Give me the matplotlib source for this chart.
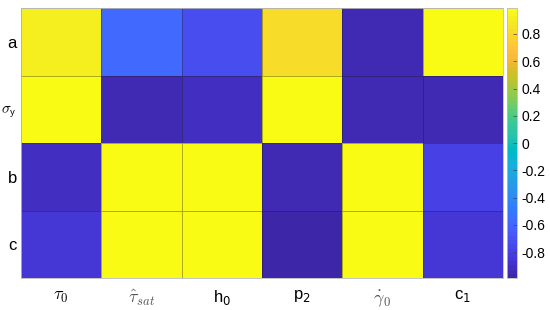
import numpy as np
import matplotlib
matplotlib.use('Agg')
import matplotlib.pyplot as plt
from matplotlib.colors import ListedColormap

# parula (MATLAB) colour table, 64 entries
parula_data = [
    [0.2422, 0.1504, 0.6603], [0.2504, 0.1650, 0.7076], [0.2578, 0.1818, 0.7511], [0.2647, 0.1978, 0.7952],
    [0.2706, 0.2147, 0.8364], [0.2751, 0.2342, 0.8710], [0.2783, 0.2559, 0.8991], [0.2803, 0.2782, 0.9221],
    [0.2813, 0.3006, 0.9414], [0.2810, 0.3228, 0.9579], [0.2795, 0.3447, 0.9717], [0.2760, 0.3667, 0.9829],
    [0.2699, 0.3892, 0.9906], [0.2602, 0.4123, 0.9952], [0.2440, 0.4358, 0.9988], [0.2206, 0.4603, 0.9973],
    [0.1963, 0.4847, 0.9892], [0.1834, 0.5074, 0.9798], [0.1786, 0.5289, 0.9682], [0.1764, 0.5499, 0.9520],
    [0.1687, 0.5703, 0.9359], [0.1540, 0.5902, 0.9218], [0.1460, 0.6091, 0.9079], [0.1380, 0.6276, 0.8973],
    [0.1248, 0.6459, 0.8883], [0.1113, 0.6635, 0.8763], [0.0952, 0.6798, 0.8598], [0.0689, 0.6948, 0.8394],
    [0.0297, 0.7082, 0.8163], [0.0036, 0.7203, 0.7917], [0.0067, 0.7312, 0.7660], [0.0433, 0.7411, 0.7394],
    [0.0964, 0.7500, 0.7120], [0.1408, 0.7584, 0.6842], [0.1717, 0.7670, 0.6554], [0.1938, 0.7758, 0.6251],
    [0.2161, 0.7843, 0.5923], [0.2470, 0.7918, 0.5567], [0.2906, 0.7973, 0.5188], [0.3406, 0.8008, 0.4789],
    [0.3909, 0.8029, 0.4354], [0.4456, 0.8024, 0.3909], [0.5044, 0.7993, 0.3480], [0.5616, 0.7942, 0.3045],
    [0.6174, 0.7876, 0.2612], [0.6720, 0.7793, 0.2227], [0.7242, 0.7698, 0.1910], [0.7738, 0.7598, 0.1646],
    [0.8203, 0.7498, 0.1535], [0.8634, 0.7406, 0.1596], [0.9035, 0.7330, 0.1774], [0.9393, 0.7288, 0.2100],
    [0.9728, 0.7298, 0.2394], [0.9956, 0.7434, 0.2371], [0.9970, 0.7659, 0.2199], [0.9952, 0.7893, 0.2028],
    [0.9892, 0.8136, 0.1885], [0.9786, 0.8386, 0.1766], [0.9676, 0.8639, 0.1643], [0.9610, 0.8890, 0.1537],
    [0.9597, 0.9135, 0.1423], [0.9628, 0.9373, 0.1265], [0.9691, 0.9606, 0.1064], [0.9769, 0.9839, 0.0805],
]
parula = ListedColormap(parula_data, name='parula')

# labels and correlation values
col_labels = [r'$\tau_\mathsf{0}$', r'$\hat{\tau}_{sat}$', r'h$_0$', r'p$_2$', r'$\dot{\gamma}_0$', r'c$_1$']
row_labels = ['a', r'$\sigma_\mathsf{y}$', 'b', 'c']
row_a = [0.91, -0.58, -0.74, 0.82, -0.94, 0.98]
row_sigma = [0.98, -0.95, -0.92, 0.97, -0.93, -0.94]
row_b = [-0.91, 0.97, 0.98, -0.95, 0.98, -0.78]
row_c = [-0.85, 0.97, 0.96, -0.96, 0.98, -0.86]
corr = np.array([row_a, row_sigma, row_b, row_c])

plt.rcParams['font.family'] = ['Liberation Sans', 'DejaVu Sans']
plt.rcParams['mathtext.fontset'] = 'dejavusans'

fig = plt.figure(figsize=(5.5, 3.1), dpi=100)
ax = fig.add_axes([0.038, 0.103, 0.8765, 0.871])
cax = fig.add_axes([0.922, 0.103, 0.018, 0.871])

mesh = ax.pcolormesh(corr, cmap=parula, vmin=-0.99, vmax=0.99,
                     edgecolors=(0.1, 0.1, 0.1, 0.35), linewidth=0.6)
ax.set_xlim(0, 6)
ax.set_ylim(4, 0)
ax.set_xticks(np.arange(6) + 0.5)
ax.set_yticks(np.arange(4) + 0.5)
ax.set_xticklabels(col_labels, fontsize=12)
ax.set_yticklabels(row_labels, fontsize=12)
xl = ax.get_xticklabels()
for i in (1, 4):
    xl[i].set_color('#555555')
    xl[i].set_math_fontfamily('cm')
    xl[i].set_fontsize(13)
xl[0].set_math_fontfamily('cm')
xl[0].set_fontsize(13)
sig = ax.get_yticklabels()[1]
sig.set_math_fontfamily('cm')
sig.set_fontsize(11)
ax.tick_params(axis='x', length=0, pad=7)
ax.tick_params(axis='y', length=0, pad=3)
for s in ax.spines.values():
    s.set_color('#bbbbbb')
    s.set_linewidth(0.6)

cb = fig.colorbar(mesh, cax=cax)
cb.set_ticks([-0.8, -0.6, -0.4, -0.2, 0, 0.2, 0.4, 0.6, 0.8])
cb.set_ticklabels(['-0.8', '-0.6', '-0.4', '-0.2', '0', '0.2', '0.4', '0.6', '0.8'])
cb.ax.tick_params(labelsize=10, direction='in', length=3, width=0.5, color='#444444', pad=3)
cb.outline.set_edgecolor('#bbbbbb')
cb.outline.set_linewidth(0.6)

fig.savefig('out.png', dpi=100)
